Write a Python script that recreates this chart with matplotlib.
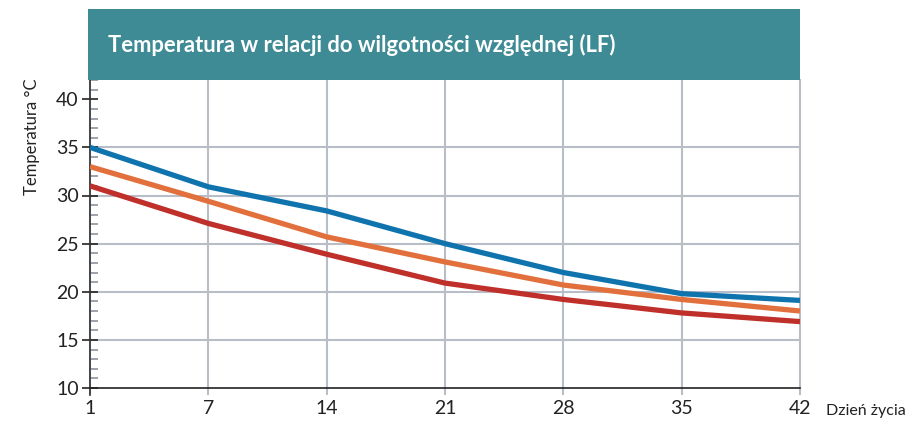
import matplotlib
matplotlib.use("Agg")
import matplotlib.pyplot as plt
from matplotlib.patches import Rectangle
from matplotlib.ticker import MultipleLocator

days = ["1", "7", "14", "21", "28", "35", "42"]
temp_blue = [35.0, 30.9, 28.4, 25.0, 22.0, 19.8, 19.1]
temp_orange = [33.0, 29.4, 25.7, 23.1, 20.7, 19.2, 18.0]
temp_red = [31.0, 27.1, 23.9, 20.9, 19.2, 17.8, 16.9]
title = "Temperatura w relacji do wilgotności względnej (LF)"
ylabel = "Temperatura °C"
xlabel = "Dzień życia"

W, H = 909, 422
fig = plt.figure(figsize=(W / 100, H / 100), dpi=100)
ax = fig.add_axes([90 / W, (H - 388) / H, (800 - 90) / W, (388 - 80) / H])

x = list(range(len(days)))
grid_c = "#b9bdc8"
for xi in x:
    ax.axvline(xi, color=grid_c, lw=1.5, zorder=1, clip_on=False)
for yv in [15, 20, 25, 30, 35]:
    ax.axhline(yv, color=grid_c, lw=1.5, zorder=1)

ax.plot(x, temp_blue, color="#0f74ae", lw=3.8, zorder=3, solid_capstyle="butt")
ax.plot(x, temp_orange, color="#e2703d", lw=3.8, zorder=3, solid_capstyle="butt")
ax.plot(x, temp_red, color="#c0302a", lw=3.8, zorder=3, solid_capstyle="butt")

ax.set_xlim(0, len(days) - 1)
ax.set_ylim(10, 42)
ax.set_xticks(x)
ax.set_xticklabels(days)
ax.set_yticks([10, 15, 20, 25, 30, 35, 40])
ax.yaxis.set_minor_locator(MultipleLocator(1))

for s in ["top", "right"]:
    ax.spines[s].set_visible(False)
ax.spines["left"].set_color("#333333")
ax.spines["bottom"].set_color("#222222")
ax.spines["left"].set_linewidth(1.2)
ax.spines["bottom"].set_linewidth(1.2)
ax.spines["left"].set_bounds(9.3, 42)

ax.tick_params(axis="y", which="major", direction="inout", length=12, width=1.2,
               color="#222222", labelsize=14, labelcolor="#222222", pad=2)
ax.tick_params(axis="y", which="minor", direction="in", length=6, width=1.2,
               color="#8d929c")
ax.tick_params(axis="x", which="major", direction="out", length=5, width=1.5,
               color=grid_c, labelsize=14, labelcolor="#222222", pad=4)
for lab in ax.get_xticklabels() + ax.get_yticklabels():
    lab.set_fontfamily("Lato")

fig.text(32 / W, 1 - 137 / H, ylabel, rotation=90, ha="center", va="center",
         fontsize=12, family="Lato", color="#222222")
fig.text(826 / W, 1 - 411 / H, xlabel, ha="left", va="center",
         fontsize=11.5, family="Lato", color="#222222")

fig.patches.append(Rectangle((88 / W, 1 - 80 / H), (800 - 88) / W, (80 - 9) / H,
                             transform=fig.transFigure, facecolor="#3e8b96",
                             edgecolor="none", zorder=0))
fig.text(108 / W, 1 - 45 / H, title, ha="left", va="center", fontsize=15.8,
         family="Lato", weight="bold", color="white")

fig.savefig("out.png", dpi=100)
